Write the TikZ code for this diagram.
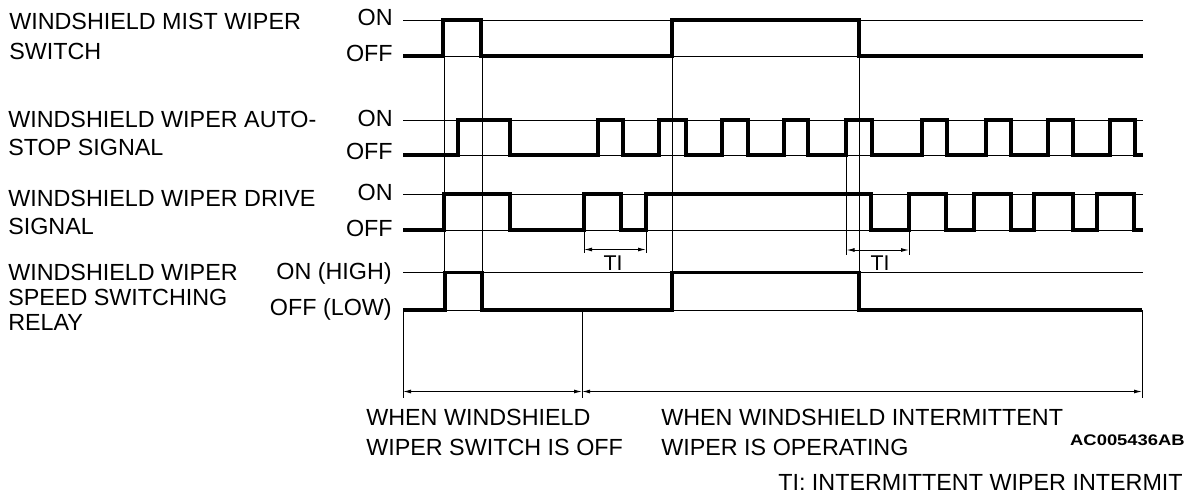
\documentclass[tikz,border=0pt]{standalone}
\usepackage{fontspec}
\setmainfont{Liberation Sans}
\usetikzlibrary{arrows.meta}
\begin{document}
\begin{tikzpicture}[x=0.75pt,y=-0.75pt,
  lbl/.style={font=\fontsize{17.5}{20}\selectfont, inner sep=0pt, anchor=base west},
  lvl/.style={font=\fontsize{17.5}{20}\selectfont, inner sep=0pt, anchor=base east},
  tilbl/.style={font=\fontsize{16}{18}\selectfont, inner sep=0pt, anchor=base},
  guide/.style={line width=0.75pt},
  wave/.style={line width=2.4pt, line join=miter},
  dimline/.style={line width=0.75pt, {Latex[length=6pt,width=3pt]}-{Latex[length=6pt,width=3pt]}}
]
\useasboundingbox (0,0) rectangle (1187,496);

% ---- left labels ----
\node[lbl] (r1a) at (9,29) {WINDSHIELD MIST WIPER};
\node[lbl] (r1b) at (9,59) {SWITCH};
\node[lbl] (r2a) at (8,127.5) {WINDSHIELD WIPER AUTO-};
\node[lbl] (r2b) at (8,155) {STOP SIGNAL};
\node[lbl] (r3a) at (8,206) {WINDSHIELD WIPER DRIVE};
\node[lbl] (r3b) at (8,234) {SIGNAL};
\node[lbl] (r4a) at (8,280.5) {WINDSHIELD WIPER};
\node[lbl] (r4b) at (8,305.5) {SPEED SWITCHING};
\node[lbl] (r4c) at (8,330.5) {RELAY};

% ---- level labels ----
\node[lvl] (on1) at (393,25) {ON};
\node[lvl] (off1) at (393,61) {OFF};
\node[lvl] (on2) at (393,126) {ON};
\node[lvl] (off2) at (393,159.5) {OFF};
\node[lvl] (on3) at (393,200.5) {ON};
\node[lvl] (off3) at (393,236.5) {OFF};
\node[lvl] (on4) at (392,279) {ON (HIGH)};
\node[lvl] (off4) at (392,315.5) {OFF (LOW)};

% ---- guide lines ----
\foreach \yy in {20,56,120,155,194,230,272.5,310}
  \draw[guide] (403,\yy) -- (1143,\yy);

% ---- vertical reference lines ----
\draw[guide] (444,56) -- (444,310);
\draw[guide] (482,56) -- (482,310);
\draw[guide] (672,56) -- (672,310);
\draw[guide] (859,56) -- (859,310);
\draw[guide] (846.5,120) -- (846.5,255);
\draw[guide] (584,230) -- (584,253);
\draw[guide] (646,230) -- (646,253);
\draw[guide] (909,230) -- (909,255);
\draw[guide] (403,310) -- (403,398);
\draw[guide] (582,310) -- (582,398);
\draw[guide] (1142,310) -- (1142,398);

% ---- waveforms ----
\draw[wave] (403,56) -- (443,56) -- (443,20) -- (481,20) -- (481,56) -- (672,56) -- (672,20) -- (859,20) -- (859,56) -- (1143,56);

\draw[wave] (403,155) -- (458,155) -- (458,120) -- (510,120) -- (510,155) -- (598,155) -- (598,120) -- (623,120) -- (623,155) -- (659,155) -- (659,120) -- (686,120) -- (686,155) -- (722,155) -- (722,120) -- (748,120) -- (748,155) -- (784,155) -- (784,120) -- (808,120) -- (808,155) -- (846,155) -- (846,120) -- (872,120) -- (872,155) -- (922,155) -- (922,120) -- (947,120) -- (947,155) -- (986,155) -- (986,120) -- (1011,120) -- (1011,155) -- (1048,155) -- (1048,120) -- (1073,120) -- (1073,155) -- (1110,155) -- (1110,120) -- (1135,120) -- (1135,155) -- (1143,155);

\draw[wave] (403,230) -- (444,230) -- (444,194) -- (510,194) -- (510,230) -- (584,230) -- (584,194) -- (621,194) -- (621,230) -- (646,230) -- (646,194) -- (871,194) -- (871,230) -- (909,230) -- (909,194) -- (946,194) -- (946,230) -- (974,230) -- (974,194) -- (1011,194) -- (1011,230) -- (1034,230) -- (1034,194) -- (1073,194) -- (1073,230) -- (1097,230) -- (1097,194) -- (1134,194) -- (1134,230) -- (1143,230);

\draw[wave] (403,310) -- (445,310) -- (445,272.5) -- (482,272.5) -- (482,310) -- (672,310) -- (672,272.5) -- (859,272.5) -- (859,310) -- (1142,310);

% ---- TI dimensions ----
\coordinate (ti1a) at (584,249.5);
\coordinate (ti1b) at (646,249.5);
\coordinate (ti2a) at (846.5,250);
\coordinate (ti2b) at (909,250);
\draw[dimline] (ti1a) -- (ti1b);
\draw[dimline] (ti2a) -- (ti2b);
\node[tilbl] (ti1) at (613,270) {TI};
\node[tilbl] (ti2) at (880,270) {TI};

% ---- bottom span arrows ----
\coordinate (s0) at (403,391.5);
\coordinate (s1) at (582,391.5);
\coordinate (s2) at (1142,391.5);
\draw[dimline] (s0) -- (s1);
\draw[dimline] (s1) -- (s2);

\node[lbl] (w1a) at (366,425) {WHEN WINDSHIELD};
\node[lbl] (w1b) at (366,455) {WIPER SWITCH IS OFF};
\node[lbl] (w2a) at (661,425) {WHEN WINDSHIELD INTERMITTENT};
\node[lbl] (w2b) at (661,455) {WIPER IS OPERATING};
\node[inner sep=0pt, anchor=base east, font=\fontsize{11.5}{13}\bfseries] (code) at (1185,445) {\scalebox{1.2}[1]{AC005436AB}};
\node[lbl] (tinote) at (778,490) {TI: INTERMITTENT WIPER INTERMIT};
\end{tikzpicture}
\end{document}
